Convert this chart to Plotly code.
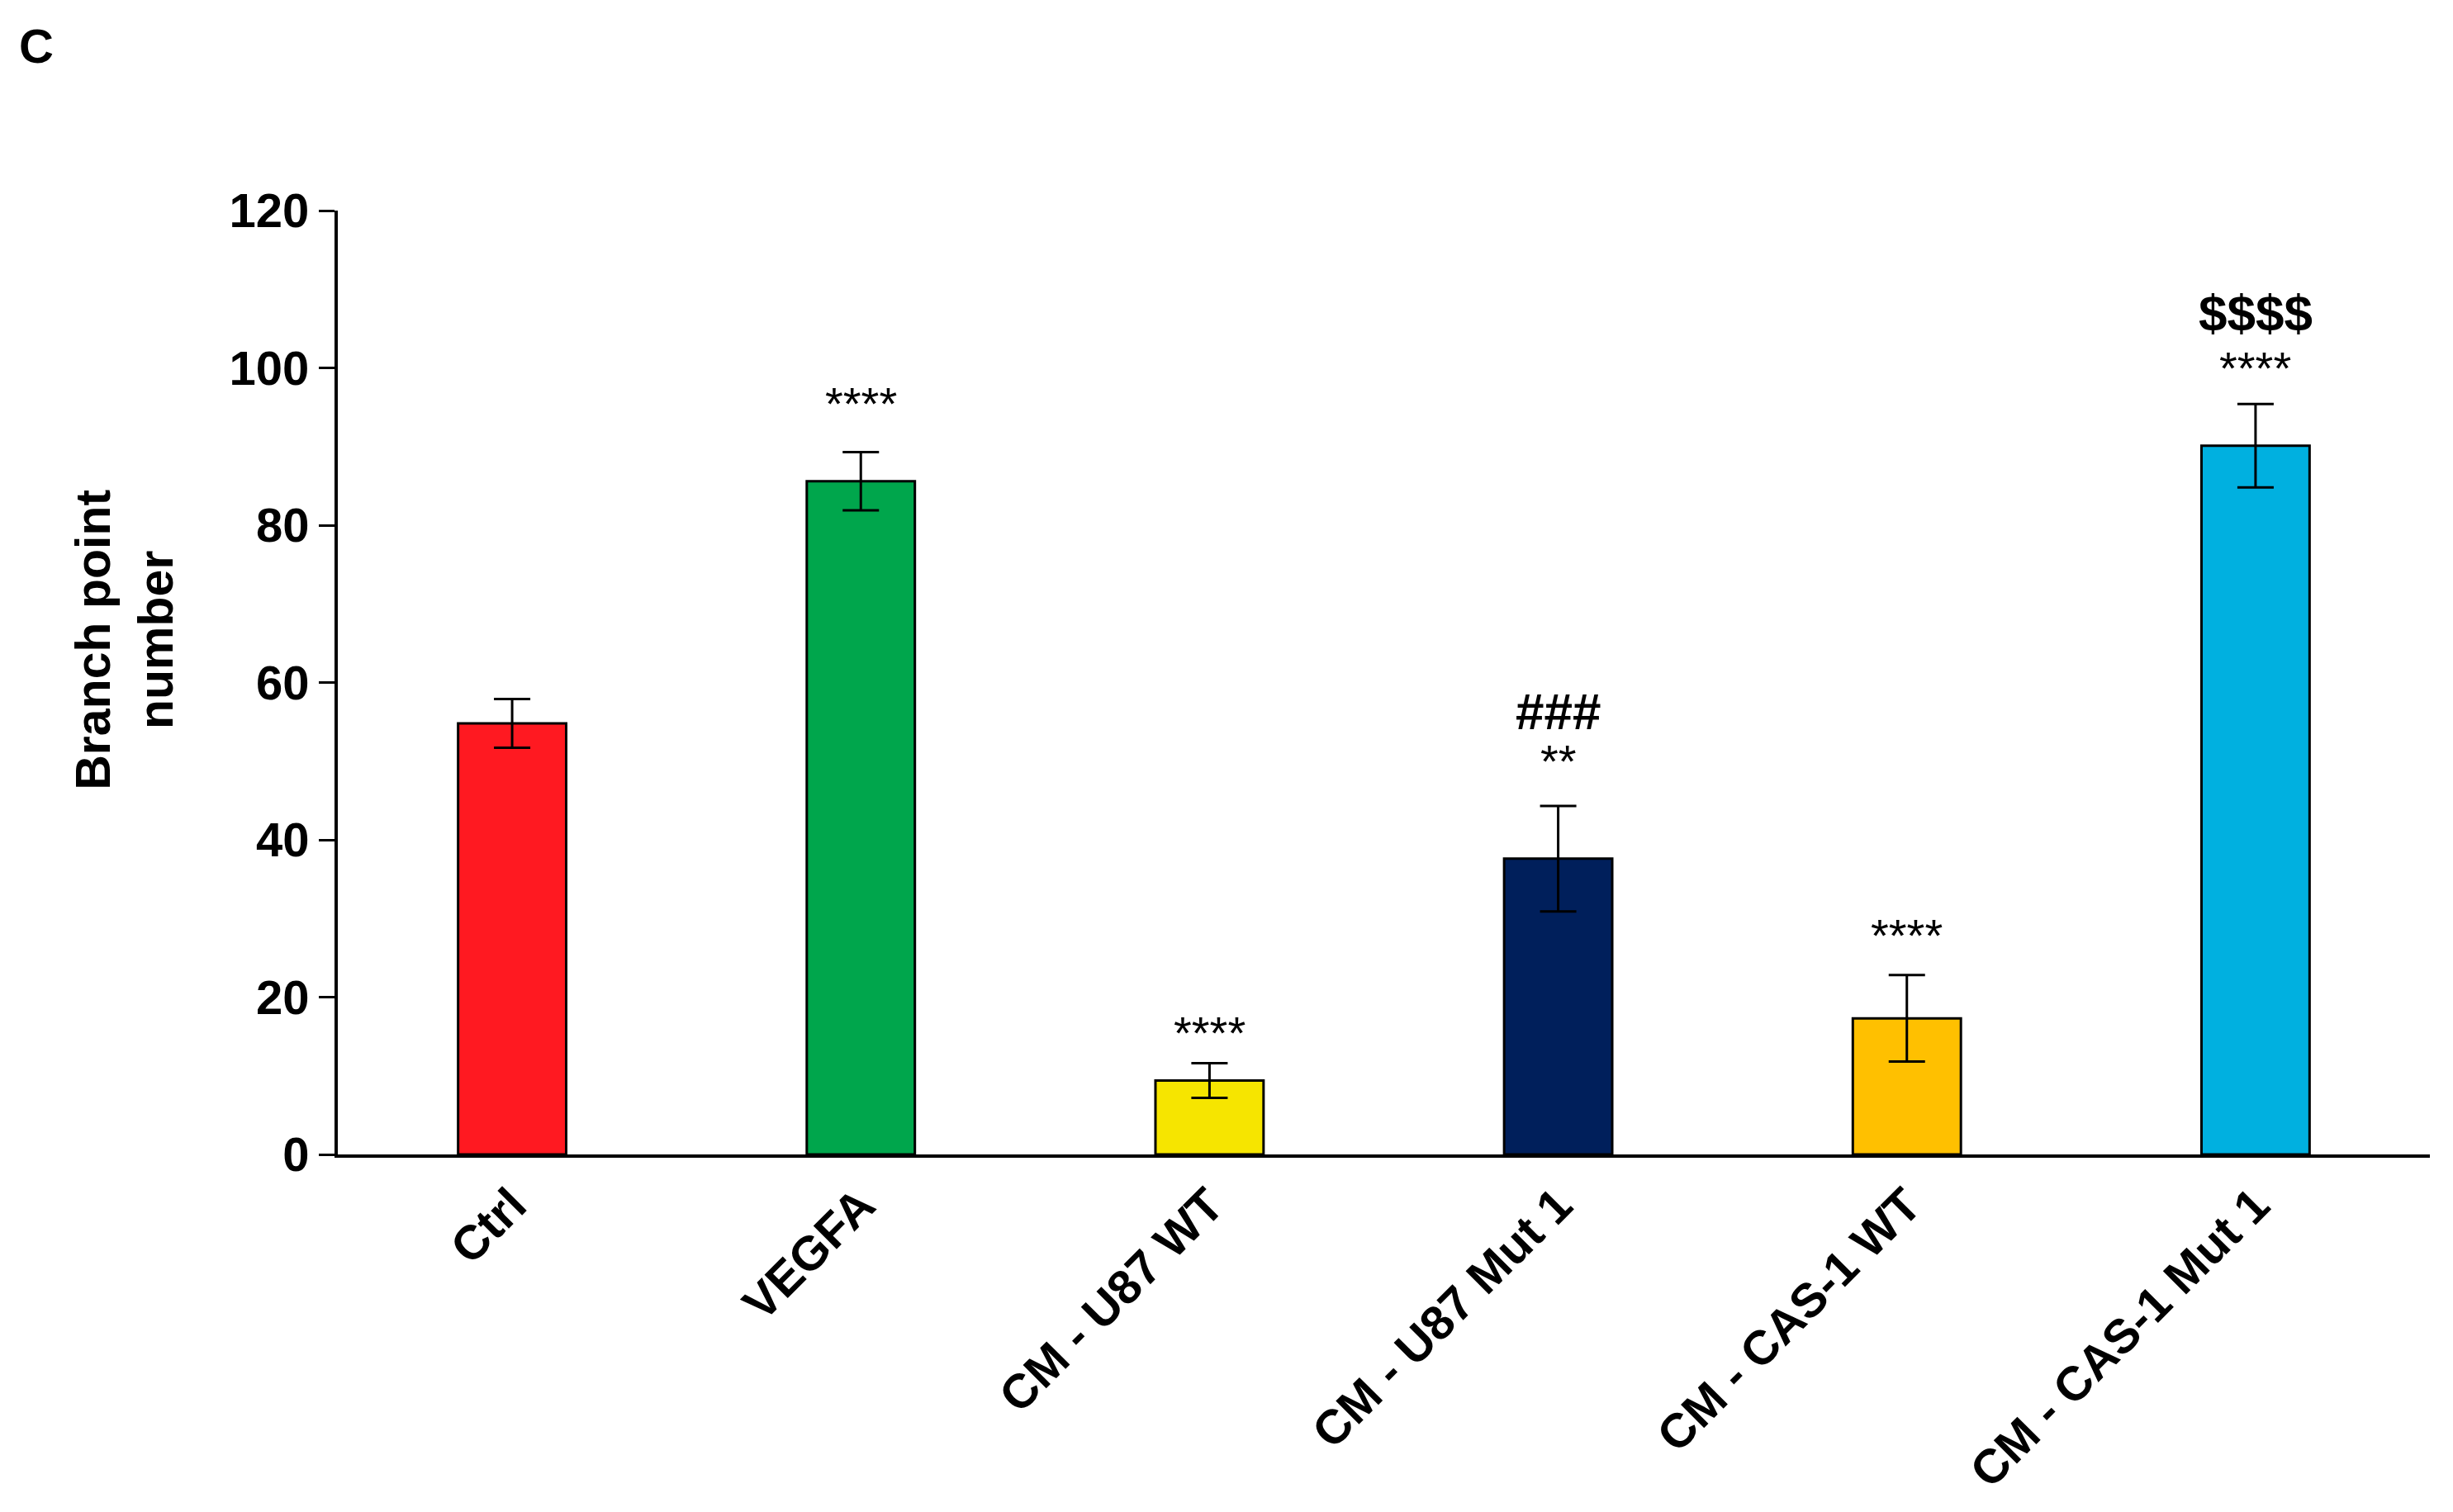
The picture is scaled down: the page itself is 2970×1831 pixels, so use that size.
import plotly.graph_objects as go

# Branch point data
groups = ["Ctrl", "VEGFA", "CM - U87 WT", "CM - U87 Mut 1", "CM - CAS-1 WT", "CM - CAS-1 Mut 1"]
means = [54.8, 85.6, 9.4, 37.6, 17.3, 90.1]
errors = [3.1, 3.7, 2.2, 6.7, 5.5, 5.3]
colors = ["#FF1921", "#00A64C", "#F6E500", "#001F5B", "#FFC000", "#00B0E0"]

# significance marks: (group, y, text)
stars = [("VEGFA", 95.5, "****"), ("CM - U87 WT", 15.5, "****"), ("CM - U87 Mut 1", 50.0, "**"),
         ("CM - CAS-1 WT", 27.9, "****"), ("CM - CAS-1 Mut 1", 100.0, "****")]
others = [("CM - U87 Mut 1", 56.3, "###"), ("CM - CAS-1 Mut 1", 107.0, "$$$$")]

yticks = [0, 20, 40, 60, 80, 100, 120]

font = "Liberation Sans, Arial, sans-serif"

fig = go.Figure()
fig.add_trace(go.Bar(
    x=groups, y=means, width=0.31,
    marker=dict(color=colors, line=dict(color="black", width=3)),
    error_y=dict(type="data", array=errors, color="black", thickness=3, width=22),
))

for g, y, t in stars:
    fig.add_annotation(x=g, y=y, text=t, showarrow=False, yanchor="middle",
                       font=dict(family=font, size=56, color="black"))
for g, y, t in others:
    fig.add_annotation(x=g, y=y, text="<b>" + t + "</b>", showarrow=False, yanchor="middle",
                       font=dict(family="Liberation Sans Narrow, " + font, size=62, color="black"))

# panel letter
fig.add_annotation(xref="paper", yref="paper", x=-0.153, y=1.205, text="<b>C</b>", showarrow=False,
                   xanchor="left", font=dict(family=font, size=58, color="black"))

# y axis title
fig.add_annotation(xref="paper", yref="paper", x=-0.131, y=0.545, text="<b>Branch point<br>number</b>",
                   showarrow=False, textangle=-90, font=dict(family=font, size=59, color="black"))

fig.update_layout(
    width=2970, height=1831,
    margin=dict(l=401, r=36, t=247, b=441),
    plot_bgcolor="white", paper_bgcolor="white",
    showlegend=False, bargap=0.69,
    font=dict(family=font, color="black"),
)
fig.update_xaxes(
    range=[-0.5, 5.5], tickangle=-45, showline=True, linecolor="black", linewidth=4,
    ticks="", tickfont=dict(family=font, size=58, color="black", weight="bold"),
)
fig.update_yaxes(
    range=[0, 120], tickvals=yticks, showline=True, linecolor="black", linewidth=4,
    ticks="outside", ticklen=19, tickwidth=3, tickcolor="black", showgrid=False, zeroline=False,
    tickfont=dict(family=font, size=58, color="black", weight="bold"),
)

fig.write_html("out.html")
